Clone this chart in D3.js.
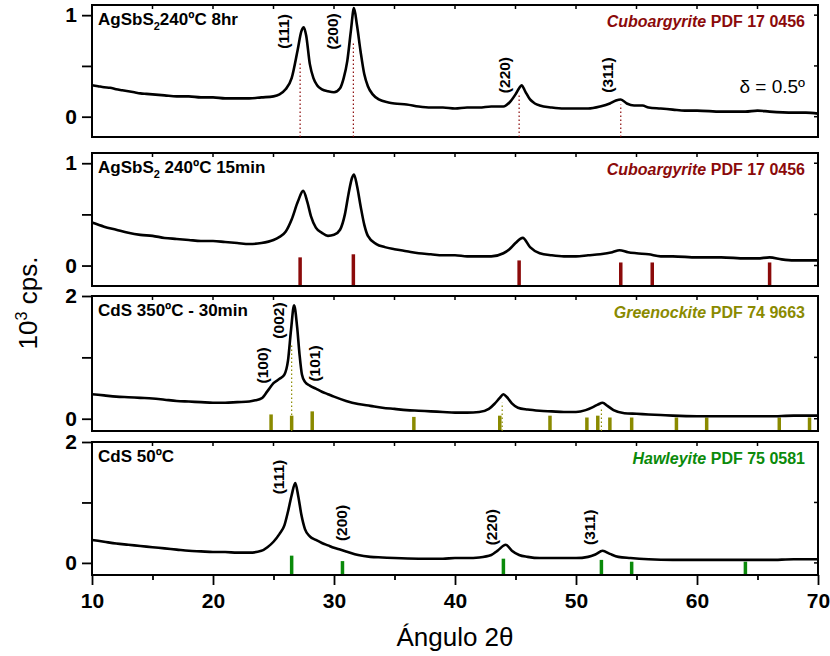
<!DOCTYPE html>
<html><head><meta charset="utf-8">
<script src="https://cdn.jsdelivr.net/npm/d3@7"></script>
<style>body{margin:0;background:#fff}svg{display:block}text{font-family:Arial,"Liberation Sans",sans-serif}</style>
</head><body>
<svg id="c" width="830" height="656"></svg>
<script>
// ---------- data ----------
const xTickLabels = [10, 20, 30, 40, 50, 60, 70];
const panelNames = ["AgSbS|2|240ºC 8hr", "AgSbS|2| 240ºC 15min", "CdS 350ºC - 30min", "CdS 50ºC"];
const refNames = ["Cuboargyrite", "Cuboargyrite", "Greenockite", "Hawleyite"];
const refCodes = [" PDF 17 0456", " PDF 17 0456", " PDF 74 9663", " PDF 75 0581"];

const agsbs8hr = [[10,0.31],[10.5,0.30],[11,0.29],[11.5,0.285],[12,0.27],[12.5,0.26],[13,0.25],[13.5,0.24],[14,0.23],[14.5,0.225],[15,0.22],[16,0.21],[17,0.20],[18,0.20],[19,0.19],[20,0.19],[21,0.18],[22,0.18],[23,0.18],[24,0.19],[25,0.20],[25.5,0.22],[26,0.27],[26.5,0.38],[27,0.66],[27.3,0.84],[27.5,0.88],[27.7,0.80],[28,0.52],[28.3,0.38],[28.6,0.31],[29,0.27],[29.5,0.25],[30,0.24],[30.5,0.28],[30.8,0.38],[31.1,0.55],[31.4,0.85],[31.65,1.07],[31.9,0.90],[32.2,0.64],[32.5,0.42],[32.8,0.30],[33.2,0.22],[33.7,0.17],[34.5,0.14],[35,0.13],[36,0.12],[37,0.10],[38,0.09],[39,0.09],[40,0.08],[41,0.09],[42,0.09],[43,0.10],[44,0.10],[44.5,0.14],[45,0.22],[45.3,0.28],[45.5,0.31],[45.8,0.25],[46.2,0.17],[46.6,0.13],[47,0.11],[48,0.09],[49,0.08],[50,0.08],[51,0.08],[52,0.10],[52.8,0.13],[53.3,0.16],[53.7,0.17],[54.2,0.13],[54.8,0.11],[55.5,0.11],[56,0.09],[57,0.08],[58,0.07],[59,0.06],[60,0.06],[62,0.05],[64,0.05],[65,0.06],[66,0.05],[68,0.04],[69,0.04],[70,0.03]];
const agsbs15min = [[10,0.42],[11,0.38],[12,0.35],[13,0.32],[14,0.30],[15,0.29],[16,0.27],[17,0.26],[18,0.25],[19,0.24],[20,0.24],[21,0.23],[22,0.22],[23,0.21],[24,0.22],[25,0.25],[25.5,0.28],[26,0.33],[26.5,0.45],[27,0.62],[27.45,0.73],[27.8,0.62],[28.1,0.48],[28.5,0.37],[29,0.32],[29.5,0.29],[30,0.30],[30.5,0.35],[30.9,0.50],[31.2,0.70],[31.5,0.86],[31.65,0.89],[31.9,0.78],[32.2,0.58],[32.5,0.40],[32.8,0.29],[33.5,0.21],[34.2,0.18],[35,0.16],[36,0.14],[37,0.12],[38,0.11],[39,0.10],[40,0.10],[41,0.09],[42,0.09],[43,0.09],[44,0.12],[44.5,0.16],[45,0.22],[45.6,0.27],[46.2,0.18],[47,0.12],[48,0.10],[49,0.09],[50,0.09],[51,0.10],[52,0.11],[53,0.13],[53.6,0.15],[54.3,0.13],[55,0.12],[56,0.11],[57,0.09],[58,0.09],[60,0.08],[62,0.08],[64,0.07],[65,0.07],[66,0.08],[67,0.06],[68,0.05],[70,0.05]];
const cds350 = [[10,0.40],[11,0.38],[12,0.36],[13,0.35],[14,0.34],[15,0.33],[16,0.31],[17,0.29],[18,0.28],[19,0.27],[20,0.26],[21,0.26],[22,0.27],[23,0.28],[23.5,0.30],[24,0.33],[24.5,0.45],[25,0.58],[25.5,0.65],[25.9,0.72],[26.2,0.95],[26.45,1.45],[26.7,1.85],[26.95,1.50],[27.15,1.05],[27.35,0.72],[27.6,0.60],[28,0.54],[28.5,0.49],[29,0.44],[29.5,0.40],[30,0.36],[31,0.29],[32,0.24],[33,0.21],[34,0.18],[35,0.16],[36,0.14],[37,0.13],[38,0.12],[39,0.11],[40,0.10],[41,0.10],[42,0.11],[42.8,0.16],[43.3,0.25],[43.7,0.34],[44,0.40],[44.3,0.35],[44.7,0.25],[45.2,0.18],[46,0.15],[47,0.13],[48,0.12],[49,0.11],[50,0.11],[50.8,0.14],[51.4,0.19],[51.8,0.23],[52.2,0.26],[52.6,0.21],[53.1,0.14],[54,0.09],[55,0.08],[56,0.07],[57,0.06],[58,0.05],[60,0.04],[62,0.04],[64,0.04],[66,0.04],[68,0.05],[70,0.05]];
const cds50 = [[10,0.38],[11,0.35],[12,0.32],[13,0.30],[14,0.28],[15,0.26],[16,0.24],[17,0.22],[18,0.20],[19,0.19],[20,0.18],[21,0.18],[22,0.17],[23,0.17],[24,0.20],[24.5,0.26],[25,0.35],[25.5,0.48],[25.9,0.62],[26.2,0.85],[26.5,1.12],[26.8,1.32],[27.05,1.10],[27.3,0.80],[27.6,0.56],[28,0.44],[28.5,0.38],[29,0.33],[29.5,0.29],[30,0.25],[30.5,0.22],[31,0.19],[32,0.13],[33,0.10],[34,0.09],[35,0.08],[37,0.07],[39,0.07],[40,0.08],[41,0.08],[42,0.09],[43,0.13],[43.5,0.20],[44.2,0.30],[44.7,0.20],[45.3,0.13],[46,0.10],[47,0.08],[48,0.08],[50,0.08],[51,0.10],[51.6,0.14],[52.2,0.20],[52.8,0.15],[53.5,0.10],[54.5,0.08],[56,0.06],[58,0.05],[60,0.05],[62,0.05],[64,0.05],[66,0.05],[68,0.06],[70,0.06]];

// reference sticks (2θ, relative height)
const cuboPos = [27.2, 31.6, 45.3, 53.7, 56.3, 66.0];
const cuboH   = [0.08, 0.11, 0.05, 0.03, 0.03, 0.03];
const greenPos = [24.8, 26.5, 28.2, 36.6, 43.7, 47.85, 50.9, 51.8, 52.8, 54.6, 58.3, 60.8, 66.8, 69.3];
const greenH   = [0.07, 0.05, 0.12, 0.03, 0.05, 0.05, 0.02, 0.05, 0.02, 0.02, 0.02, 0.02, 0.02, 0.02];
const hawlPos = [26.5, 30.7, 44.0, 52.1, 54.6, 64.0];
const hawlH   = [0.12, 0.03, 0.07, 0.05, 0.02, 0.02];

// dotted guide lines (2θ, top value)
const guide1Pos = [27.2, 31.6, 45.3, 53.7];
const guide1Top = [0.54, 0.72, 0.22, 0.12];
const guide3Pos = [26.5, 43.9, 52.1];
const guide3Top = [1.23, 0.26, 0.16];

// Miller index labels (2θ position, value position)
const hkl1 = [["(111)",25.8,0.84],["(200)",29.85,0.84],["(220)",44.1,0.41],["(311)",52.6,0.41]];
const hkl3 = [["(002)",25.45,1.6],["(100)",24.1,0.87],["(101)",28.4,0.90]];
const hkl4 = [["(111)",25.4,1.42],["(200)",30.65,0.66],["(220)",43.05,0.59],["(311)",51.15,0.59]];

// ---------- layout ----------
const svg = d3.select("#c");
const x = d3.scaleLinear().domain([10, 70]).range([92, 818]);
const panels = [
  {top:5,   bottom:137, dom:[-0.2,1.1], ticks:[0,0.5,1], lab:[0,1], data:agsbs8hr,  col:"#8b0a0a"},
  {top:153, bottom:286, dom:[-0.2,1.1], ticks:[0,0.5,1], lab:[0,1], data:agsbs15min,col:"#8b0a0a", sp:cuboPos, sh:cuboH},
  {top:296, bottom:431, dom:[-0.2,2],   ticks:[0,1,2],   lab:[0,2], data:cds350,    col:"#8a8a00", sp:greenPos, sh:greenH},
  {top:442, bottom:575, dom:[-0.2,2],   ticks:[0,1,2],   lab:[0,2], data:cds50,     col:"#0a8a0a", sp:hawlPos, sh:hawlH}
];

panels.forEach((p, i) => {
  const y = d3.scaleLinear().domain(p.dom).range([p.bottom, p.top]);
  p.y = y;
  const g = svg.append("g");

  if (p.sp) {
    g.selectAll("line.stick").data(p.sp).join("line")
      .attr("x1", d => x(d)).attr("x2", d => x(d))
      .attr("y1", y(p.dom[0])).attr("y2", (d, k) => y(p.sh[k]))
      .attr("stroke", p.col).attr("stroke-width", 3.5);
  }

  g.append("path").datum(p.data)
    .attr("fill", "none").attr("stroke", "#000").attr("stroke-width", 2.6)
    .attr("stroke-linejoin", "round")
    .attr("d", d3.line().x(d => x(d[0])).y(d => y(d[1])).curve(d3.curveMonotoneX));

  const ax = g.append("g").attr("transform", `translate(${x(10)},0)`)
    .call(d3.axisLeft(y).tickValues(p.ticks).tickSize(10).tickPadding(5)
      .tickFormat(d => p.lab.includes(d) ? d3.format("d")(d) : ""));
  ax.select(".domain").remove();
  ax.selectAll("line").attr("stroke-width", 1.8);
  ax.selectAll("text").style("font-size", "21px").style("font-weight", "bold").attr("fill", "#000");

  g.selectAll("line.rt").data(p.ticks).join("line")
    .attr("x1", x(70)).attr("x2", x(70) - 4)
    .attr("y1", d => y(d)).attr("y2", d => y(d))
    .attr("stroke", "#000").attr("stroke-width", 1.5);
  g.selectAll("line.tt").data(d3.range(15, 70, 5)).join("line")
    .attr("x1", d => x(d)).attr("x2", d => x(d))
    .attr("y1", p.top).attr("y2", p.top + 4)
    .attr("stroke", "#000").attr("stroke-width", 1.5);

  g.append("rect").attr("x", x(10)).attr("y", p.top)
    .attr("width", x(70) - x(10)).attr("height", p.bottom - p.top)
    .attr("fill", "none").attr("stroke", "#000").attr("stroke-width", 2);

  const parts = panelNames[i].split("|");
  const t = g.append("text").attr("x", 98).attr("y", p.top + 20)
    .style("font-size", "17px").style("font-weight", "bold");
  t.append("tspan").text(parts[0]);
  if (parts.length > 1) {
    t.append("tspan").attr("dy", 5).style("font-size", "11px").text(parts[1]);
    t.append("tspan").attr("dy", -5).text(parts[2]);
  }

  const r = g.append("text").attr("x", 805).attr("y", p.top + 22)
    .attr("text-anchor", "end").style("font-size", "16px").style("font-weight", "bold")
    .attr("fill", p.col);
  r.append("tspan").style("font-style", "italic").text(refNames[i]);
  r.append("tspan").text(refCodes[i]);
});

function guides(p, pos, top) {
  svg.append("g").selectAll("line").data(pos).join("line")
    .attr("x1", d => x(d)).attr("x2", d => x(d))
    .attr("y1", p.y(p.dom[0])).attr("y2", (d, k) => p.y(top[k]))
    .attr("stroke", p.col).attr("stroke-width", 1.2).attr("stroke-dasharray", "1.5,2.5");
}
guides(panels[0], guide1Pos, guide1Top);
guides(panels[2], guide3Pos, guide3Top);

function hkl(p, arr) {
  svg.append("g").selectAll("text").data(arr).join("text")
    .attr("transform", d => `translate(${x(d[1])},${p.y(d[2])}) rotate(-90)`)
    .attr("text-anchor", "middle").attr("dy", "0.35em")
    .style("font-size", "15.5px").style("font-weight", "bold").text(d => d[0]);
}
hkl(panels[0], hkl1);
hkl(panels[2], hkl3);
hkl(panels[3], hkl4);

svg.append("text").attr("x", 805).attr("y", 93).attr("text-anchor", "end")
  .style("font-size", "19px").text("δ = 0.5º");

const pb = panels[3];
const bx = svg.append("g").attr("transform", `translate(0,${pb.bottom})`)
  .call(d3.axisBottom(x).tickValues(d3.range(10, 71, 5)).tickSize(10).tickPadding(8)
    .tickFormat(d => xTickLabels.includes(d) ? d : ""));
bx.select(".domain").remove();
bx.selectAll("line").attr("stroke-width", 1.8).attr("y2", d => xTickLabels.includes(d) ? 10 : 5);
bx.selectAll("text").style("font-size", "21px").style("font-weight", "bold").attr("fill", "#000");

svg.append("text").attr("x", 455).attr("y", 646).attr("text-anchor", "middle")
  .style("font-size", "26px").text("Ángulo 2θ");
const yt = svg.append("text").attr("transform", "translate(37,303) rotate(-90)")
  .attr("text-anchor", "middle").style("font-size", "26px");
yt.append("tspan").text("10");
yt.append("tspan").attr("dy", -10).style("font-size", "16px").text("3");
yt.append("tspan").attr("dy", 10).text(" cps.");
</script>
</body></html>
